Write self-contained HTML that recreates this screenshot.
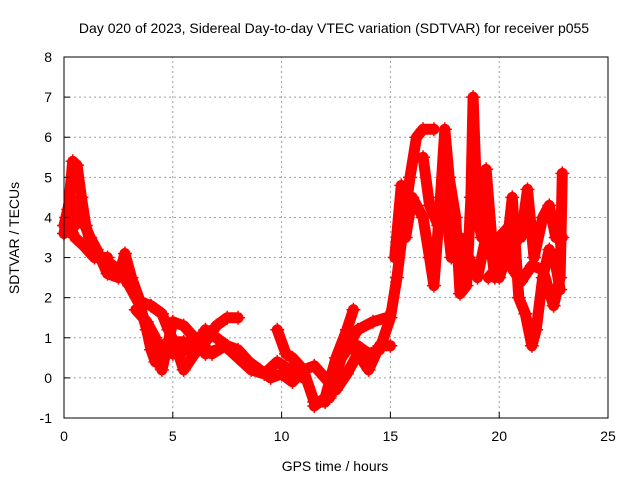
<!DOCTYPE html>
<html><head><meta charset="utf-8"><style>
body{margin:0;background:#fff;width:640px;height:480px;overflow:hidden}
svg{font-family:"Liberation Sans",sans-serif}
</style></head><body>
<svg id="chart" width="640" height="480" xmlns="http://www.w3.org/2000/svg">
<text x="334" y="33" text-anchor="middle" font-size="14">Day 020 of 2023, Sidereal Day-to-day VTEC variation (SDTVAR) for receiver p055</text>
<text transform="translate(19,238) rotate(-90)" text-anchor="middle" font-size="14">SDTVAR / TECUs</text>
<text x="335" y="471" text-anchor="middle" font-size="14">GPS time / hours</text>
<g id="grid"></g><g id="series"></g><g id="axes"></g>
</svg>
<script>
const xTicks=[0,5,10,15,20,25];
const yTicks=[-1,0,1,2,3,4,5,6,7,8];
const seriesTimes=[
[0,0.2,0.4,0.6,0.8,1.0,1.3,1.6,2.0,2.5,3.0,3.5,3.8,4.0,4.2,4.5,5.0,5.5,6.0,6.5,7.0,7.5,8.0,8.5,9.0,9.5,10.0,10.5,11.0,11.5,12.0,12.5,13.0,13.5,14.0,14.5,15.0,15.3,15.6,15.9,16.2,16.5,17.0],
[0,0.3,0.5,0.8,1.2,1.5,2.0,2.5,2.8,3.1,3.5,4.0,4.5,4.8,5.2,5.5,6.0,6.5,7.0,7.5,8.0],
[3.3,3.8,4.2,4.5,5.0,5.5,6.0,6.5,7.0],
[9.8,10.2,10.5,11.0,11.5,12.0,12.5,13.0,13.5,14.0,14.5,15.0],
[11.5,12.0,12.5,13.0,13.3],
[12.2,12.8,13.5,14.2,14.8],
[15.2,15.5,15.7,16.0,16.5,16.8,17.0,17.3,17.5,17.7,18.0,18.2,18.5,18.7,18.8,19.0,19.2,19.4,19.7,20.0,20.3,20.6,20.9,21.2,21.5,21.7,22.0,22.3,22.6,22.8],
[16.5,16.8,17.2,17.5,17.8,18.2,18.6,19.0,19.5,19.8,20.0,20.5,21.0,21.3,21.6,22.0,22.3,22.6,22.9],
[19.5,20.0,20.5,21.0,21.5,22.0,22.5,22.8,22.9],
[5.0,5.6,6.2,6.8,7.4,8.0,8.6,9.2,9.8,10.4,11.0],
[0.1,0.5,0.9,1.4,2.0]
];
const seriesValues=[
[3.6,4.2,5.4,5.3,4.5,3.8,3.2,3.0,2.9,2.7,2.3,1.8,1.2,0.7,0.4,0.8,0.9,0.9,0.8,1.2,1.0,0.8,0.7,0.4,0.2,0.0,0.1,-0.1,0.2,-0.6,-0.6,0.3,0.7,0.8,0.6,0.7,1.5,2.5,3.8,5.0,6.0,6.2,6.2],
[3.8,4.5,3.8,4.0,3.5,3.2,2.6,2.5,3.1,2.5,1.9,1.8,1.6,1.2,0.7,0.2,0.6,0.9,1.3,1.5,1.5],
[1.7,1.4,1.0,0.2,1.4,1.3,1.0,0.6,0.7],
[1.2,0.6,0.5,0.2,0.3,0.0,-0.3,0.1,0.6,0.2,0.8,0.8],
[-0.7,-0.5,0.5,1.2,1.7],
[-0.5,0.6,1.2,1.4,1.5],
[3.0,4.8,3.5,4.5,4.0,3.0,2.3,4.5,6.2,5.0,4.0,2.1,2.3,4.5,7.0,4.0,3.5,5.2,3.2,2.5,3.0,4.5,2.0,1.6,0.8,1.2,2.5,3.2,2.8,2.2],
[5.5,4.3,3.8,4.5,3.0,3.5,3.0,2.5,3.8,2.5,3.5,3.8,3.5,4.7,3.0,4.0,4.3,3.5,3.5],
[2.5,2.8,2.8,2.4,2.8,2.7,1.8,2.5,5.1],
[0.6,0.7,0.9,0.6,0.8,0.5,0.2,0.1,0.4,0.2,0.0],
[4.0,3.5,3.3,3.0,3.0]
];
const X0=64,X1=608,Y0=418,Y1=57;
const sx=v=>X0+(v-0)/(25-0)*(X1-X0);
const sy=v=>Y0-(v+1)/(8+1)*(Y0-Y1);
const NS='http://www.w3.org/2000/svg';
function mk(t,a,p){const e=document.createElementNS(NS,t);for(const k in a)e.setAttribute(k,a[k]);p.appendChild(e);return e;}
const grid=document.getElementById('grid'),axes=document.getElementById('axes'),ser=document.getElementById('series');
xTicks.forEach(t=>{const x=sx(t);
 if(t>0&&t<25){const g=mk('line',{x1:x,x2:x,y1:Y0,y2:Y1,stroke:'#a0a0a0','stroke-dasharray':'2,3'},grid);
 
 }
 const l=mk('line',{x1:x,x2:x,y1:Y0,y2:Y0-6,stroke:'#000'},axes);
 
 
 const tx=mk('text',{x:x,y:Y0+23,'text-anchor':'middle','font-size':'14'},axes);tx.textContent=t;
 
 });
yTicks.forEach(t=>{const y=sy(t);
 if(t>-1&&t<8){const g=mk('line',{x1:X0,x2:X1,y1:y,y2:y,stroke:'#a0a0a0','stroke-dasharray':'2,3'},grid);
 
 }
 const l=mk('line',{x1:X0,x2:X0+6,y1:y,y2:y,stroke:'#000'},axes);
 
 
 const tx=mk('text',{x:X0-12,y:y+5,'text-anchor':'end','font-size':'14'},axes);tx.textContent=t;
 
 });
const fr=mk('rect',{x:X0,y:Y1,width:X1-X0,height:Y0-Y1,fill:'none',stroke:'#000'},axes);


seriesTimes.forEach((ts,i)=>{const vs=seriesValues[i];
 const pts=ts.map((t,j)=>sx(t)+','+sy(vs[j])).join(' ');
 const pl=mk('polyline',{points:pts,fill:'none',stroke:'#ff0000','stroke-width':'11','stroke-linejoin':'round','stroke-linecap':'round'},ser);
 
 
 ts.forEach((t,j)=>{const x=sx(t),y=sy(vs[j]);
  const m=mk('path',{d:`M${x-7},${y}H${x+7}M${x},${y-7}V${y+7}`,stroke:'#ff0000','stroke-width':'1.5'},ser);
  
  });});
</script>
</body></html>
